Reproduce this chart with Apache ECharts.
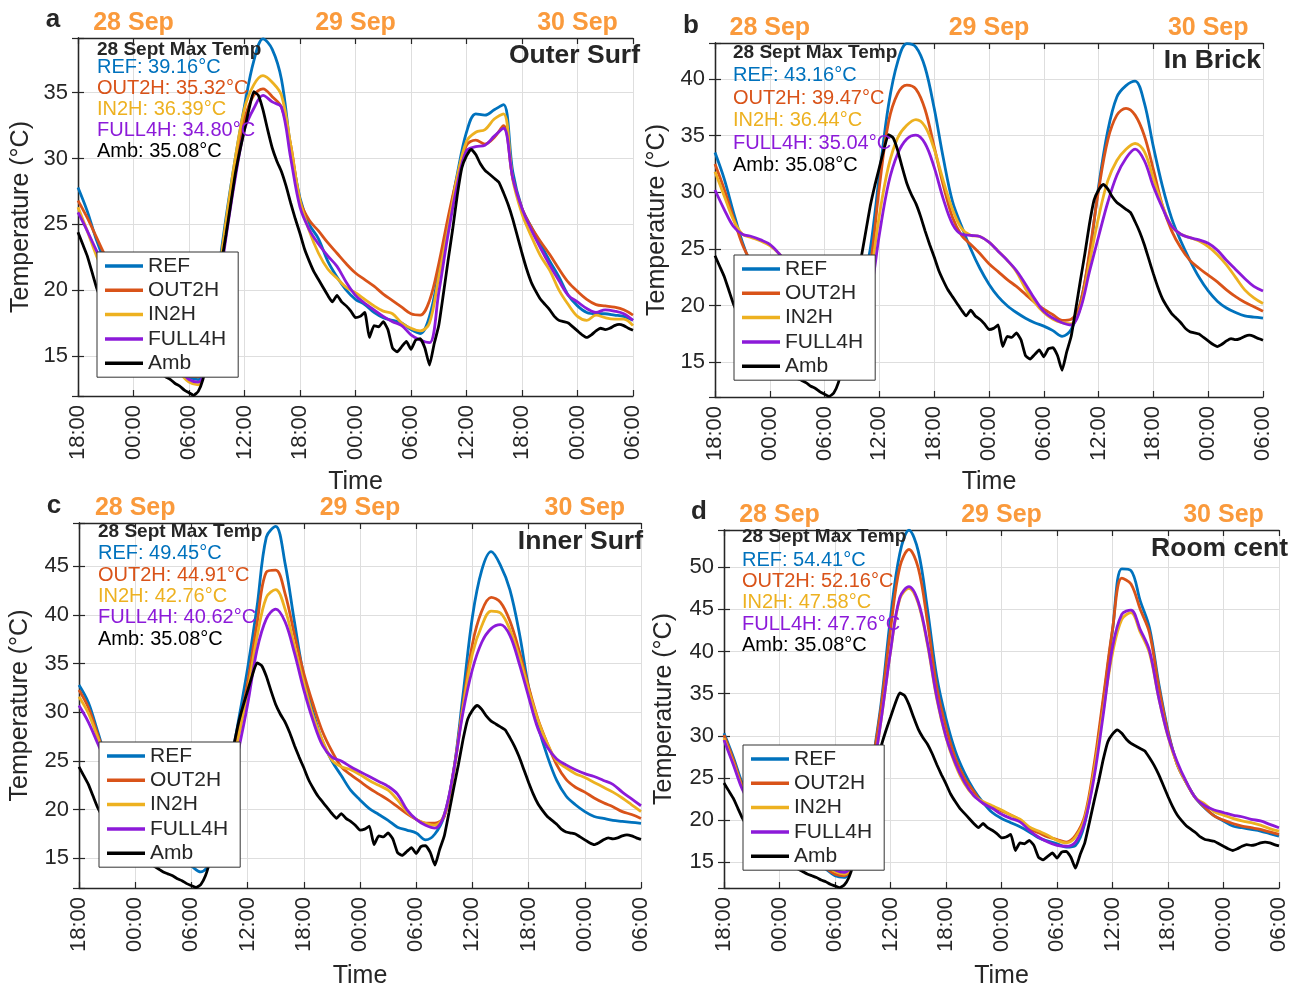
<!DOCTYPE html>
<html><head><meta charset="utf-8">
<script src="https://cdn.jsdelivr.net/npm/echarts@6/dist/echarts.min.js"></script>
<style>html,body{margin:0;padding:0;background:#fff}#chart{width:1298px;height:988px}</style>
</head><body><div id="chart"></div>
<script>
// ---------- DATA ----------
const seriesNames = ['REF', 'OUT2H', 'IN2H', 'FULL4H', 'Amb'];
const xTickLabels = ['18:00','00:00','06:00','12:00','18:00','00:00','06:00','12:00','18:00','00:00','06:00']; // every 6 h from 18:00 27 Sep
const dateTickHours = [6, 30, 54];
const dateNames = ['28 Sep', '29 Sep', '30 Sep'];
const panelLetters = ['a', 'b', 'c', 'd'];
const panelTitles = ['Outer Surf', 'In Brick', 'Inner Surf', 'Room cent'];
const maxTempTitle = '28 Sept Max Temp';
const maxTempLabels = [
  ['REF: 39.16°C', 'OUT2H: 35.32°C', 'IN2H: 36.39°C', 'FULL4H: 34.80°C', 'Amb: 35.08°C'],
  ['REF: 43.16°C', 'OUT2H: 39.47°C', 'IN2H: 36.44°C', 'FULL4H: 35.04°C', 'Amb: 35.08°C'],
  ['REF: 49.45°C', 'OUT2H: 44.91°C', 'IN2H: 42.76°C', 'FULL4H: 40.62°C', 'Amb: 35.08°C'],
  ['REF: 54.41°C', 'OUT2H: 52.16°C', 'IN2H: 47.58°C', 'FULL4H: 47.76°C', 'Amb: 35.08°C']
];
const yMinValue = 11.95;
const yMaxValues = [39.16, 43.16, 49.45, 54.41];

// Ambient temperature, half-hourly from 18:00 27 Sep
const amb = [24.4,23.5,22.6,21.4,20.2,19.3,18.5,17.8,17.2,16.7,16.2,15.8,15.4,15.1,14.8,14.5,14.2,13.9,13.6,13.4,
  13.2,12.9,12.7,12.4,12.2,12.0,12.3,13.2,14.8,17.0,19.5,22.0,24.2,26.5,28.8,30.6,32.2,33.8,35.08,34.8,
  33.7,32.2,30.8,29.8,29.0,27.9,26.6,25.4,24.3,23.1,22.2,21.4,20.8,20.2,19.6,19.1,19.6,19.1,18.8,18.4,
  17.9,18.0,18.3,16.4,17.3,17.2,17.6,17.0,15.6,15.3,15.7,16.1,15.5,16.2,16.3,15.6,14.3,15.9,17.3,19.7,
  22.2,24.6,27.2,29.3,30.2,30.7,30.3,29.6,29.1,28.8,28.5,28.2,27.4,26.5,25.4,24.1,22.8,21.6,20.6,19.9,
  19.3,18.9,18.5,18.0,17.7,17.6,17.5,17.2,16.9,16.6,16.4,16.6,16.9,17.1,17.0,17.1,17.3,17.4,17.3,17.1,16.95];

// (a) Outer surface, hourly
const refA = [27.8,26.0,23.8,22.0,20.6,19.4,18.3,17.3,16.4,15.6,14.8,14.1,13.4,13.2,15.8,20.5,25.5,30.0,34.0,37.4,
  39.1,38.3,36.0,30.8,27.0,25.0,23.9,22.2,21.0,20.0,19.3,18.9,18.3,17.9,17.7,17.5,17.0,16.7,18.0,21.3,
  25.0,28.8,32.0,33.4,33.3,33.7,34.1,29.0,26.2,24.8,23.5,22.2,21.0,19.6,18.8,18.3,18.2,18.2,18.1,18.0,17.7];
const out2hA = [26.8,25.5,24.0,22.5,21.0,19.8,18.7,17.6,16.7,15.8,15.0,14.2,13.5,13.4,15.5,20.0,25.0,29.5,33.0,34.8,
  35.3,34.7,33.9,31.0,26.8,25.3,24.5,23.6,22.8,22.0,21.3,20.8,20.3,19.7,19.2,18.7,18.2,18.1,19.2,22.0,
  25.5,28.6,31.0,31.4,31.1,31.6,32.5,28.5,26.2,24.8,23.7,22.7,21.6,20.6,19.9,19.3,18.9,18.8,18.7,18.5,18.1];
const in2hA = [26.3,24.5,22.6,21.0,19.7,18.6,17.6,16.7,15.9,15.1,14.4,13.7,13.0,12.8,15.3,20.0,25.2,30.0,33.8,35.6,
  36.3,35.8,34.8,31.0,26.8,24.5,22.8,21.6,20.9,20.2,19.8,19.3,18.8,18.4,18.2,17.5,17.1,16.9,17.5,21.0,
  24.6,28.6,31.3,32.0,32.2,33.0,33.4,28.4,25.8,24.1,22.6,21.5,20.0,18.9,18.0,17.7,18.1,17.9,17.8,17.8,17.3];
const full4hA = [25.9,24.5,23.0,21.6,20.3,19.2,18.1,17.1,16.2,15.4,14.6,13.9,13.2,13.0,14.8,19.0,24.0,28.5,32.2,33.8,
  34.8,34.3,33.9,30.0,26.3,24.6,23.5,22.6,21.8,20.6,19.6,19.0,18.5,18.0,17.6,17.3,16.6,16.2,16.0,19.8,
  24.2,28.0,30.6,30.9,31.0,31.7,32.3,28.5,26.2,24.6,23.2,21.9,20.7,19.6,19.1,18.6,18.3,18.5,18.4,18.2,17.7];

// (b) In brick, hourly
const refB = [33.5,31.2,28.3,25.6,23.5,22.0,20.8,19.8,18.9,18.1,17.4,16.8,16.3,16.0,16.5,18.5,21.0,25.0,31.5,37.7,
  41.5,43.1,42.8,41.0,37.4,33.0,29.2,27.0,25.0,23.3,21.9,20.8,20.0,19.4,18.9,18.5,18.2,17.8,17.3,17.9,
  20.2,24.4,30.5,35.4,38.4,39.4,39.8,37.9,34.0,30.5,27.7,25.7,24.0,22.5,21.3,20.4,19.8,19.4,19.1,19.0,18.9];
const out2hB = [32.5,30.3,27.8,25.4,23.8,22.6,21.6,20.7,19.9,19.2,18.6,18.0,17.5,17.1,17.0,18.0,20.0,23.5,30.5,36.2,
  38.7,39.45,39.1,37.3,34.0,30.6,27.8,26.2,25.4,24.6,23.7,23.0,22.3,21.7,21.0,20.3,19.7,19.2,18.7,18.8,
  20.2,24.7,30.2,34.6,36.8,37.4,36.8,35.0,32.0,28.8,26.6,25.1,24.0,23.3,22.7,22.1,21.4,20.8,20.3,19.9,19.5];
const in2hB = [31.8,29.7,27.6,26.3,26.0,25.7,25.3,24.6,23.5,22.3,21.0,19.8,18.8,18.0,17.6,17.8,19.0,22.5,28.0,32.3,
  34.8,35.9,36.4,35.8,33.8,31.0,28.5,26.8,26.2,26.1,25.6,24.8,24.0,23.0,21.5,20.3,19.4,18.8,18.5,18.4,
  19.8,23.8,27.8,31.0,32.8,33.8,34.3,33.6,31.2,28.8,27.0,26.3,26.0,25.7,25.2,24.5,23.6,22.5,21.4,20.7,20.2];
const full4hB = [30.2,28.5,27.0,26.3,26.1,25.8,25.4,24.6,23.6,22.5,21.3,20.2,19.2,18.4,18.0,18.2,18.6,21.0,26.3,30.8,
  33.4,34.7,35.04,34.3,32.2,29.4,27.2,26.3,26.2,26.1,25.6,24.8,24.0,23.1,21.9,20.6,19.5,18.9,18.5,18.3,
  19.7,23.0,26.1,29.1,31.5,33.0,33.8,32.8,30.5,28.6,27.0,26.3,26.0,25.8,25.5,24.9,24.0,23.2,22.4,21.7,21.3];

// (c) Inner surface, hourly
const refC = [32.8,31.0,28.0,25.0,22.8,21.0,19.6,18.4,17.3,16.4,15.6,14.9,14.2,13.6,14.6,18.0,23.5,29.0,34.5,40.8,
  48.0,49.1,45.3,39.3,33.7,30.0,27.0,25.0,23.5,22.0,21.0,20.1,19.5,18.9,18.2,17.9,17.6,16.9,17.5,19.4,
  24.0,31.8,39.8,44.6,46.5,45.1,42.6,38.2,32.6,28.6,25.5,23.0,21.4,20.5,19.8,19.3,19.1,18.9,18.8,18.7,18.6];
const out2hC = [32.3,30.5,27.7,25.0,23.0,21.3,20.0,18.9,17.9,17.1,16.3,15.6,15.0,14.6,15.2,18.5,23.0,28.0,33.0,39.1,
  44.4,44.6,42.2,38.0,34.0,30.8,28.0,26.0,24.4,23.6,22.9,22.2,21.6,21.0,20.3,19.6,19.0,18.6,18.6,19.3,
  24.0,30.8,37.0,40.4,41.8,41.3,39.4,36.3,32.6,29.3,26.8,24.6,23.1,22.3,21.8,21.2,20.7,20.3,19.8,19.5,19.1];
const in2hC = [31.6,29.9,27.4,24.9,23.0,21.5,20.3,19.2,18.3,17.5,16.7,16.0,15.4,15.0,15.5,18.5,22.5,27.3,32.1,37.7,
  41.8,42.6,40.6,36.8,33.0,29.6,27.1,25.1,24.4,24.1,23.6,23.0,22.5,22.0,21.0,19.8,19.0,18.6,18.4,19.5,
  23.8,30.5,36.0,38.9,40.4,40.2,38.5,35.7,32.3,29.2,26.8,25.0,24.3,23.7,23.3,22.8,22.3,21.8,21.2,20.5,19.8];
const full4hC = [30.7,29.0,26.8,24.6,22.9,21.5,20.4,19.4,18.5,17.7,17.0,16.3,15.7,15.3,15.6,18.0,21.8,26.0,30.8,36.4,
  39.6,40.6,39.3,36.1,32.3,29.1,26.6,25.4,25.0,24.4,23.9,23.4,22.9,22.4,21.6,20.0,19.0,18.4,18.1,19.5,
  24.0,30.0,34.4,37.2,38.6,39.0,37.9,35.0,31.6,28.3,26.4,25.2,24.6,24.1,23.7,23.4,23.0,22.6,21.8,21.1,20.4];

// (d) Room centre, hourly
const refD = [30.3,27.5,24.3,22.0,20.3,19.0,18.0,17.1,16.3,15.6,14.9,14.2,13.4,13.2,15.0,20.0,26.5,34.0,44.0,51.6,
  54.4,51.9,45.0,37.0,32.0,28.2,25.6,23.6,22.1,20.9,20.2,19.7,19.2,18.6,17.9,17.5,17.2,16.8,17.0,19.6,
  25.8,34.0,42.5,49.8,49.6,46.0,42.8,36.2,30.6,26.6,24.4,22.6,21.4,20.5,19.9,19.3,19.1,18.9,18.7,18.4,18.1];
const out2hD = [30.1,27.2,24.0,21.9,20.3,19.1,18.1,17.2,16.4,15.7,15.0,14.3,13.6,13.4,15.0,20.0,26.3,33.5,42.6,50.0,
  52.1,49.9,43.5,35.8,31.0,27.4,25.0,23.4,22.0,21.6,21.1,20.6,20.0,19.0,18.5,18.0,17.7,17.4,18.2,20.5,
  26.5,34.5,42.6,48.7,48.0,45.0,42.2,35.8,30.4,26.6,24.4,22.6,21.5,20.5,20.0,19.6,19.3,19.1,18.9,18.6,18.3];
const in2hD = [29.7,26.8,23.8,21.8,20.3,19.2,18.2,17.4,16.6,15.9,15.2,14.6,13.9,13.6,15.0,19.5,25.0,32.0,40.0,46.2,
  47.5,45.7,40.8,34.4,29.8,26.6,24.3,22.9,22.2,21.7,21.2,20.6,20.1,19.2,18.7,18.2,17.6,17.3,18.0,20.2,
  25.8,33.0,39.8,43.8,44.6,42.3,39.8,34.5,29.9,26.6,24.4,22.6,21.9,21.0,20.6,20.2,19.9,19.7,19.4,19.0,18.7];
const full4hD = [29.5,26.6,23.6,21.7,20.3,19.3,18.4,17.6,16.8,16.1,15.4,14.8,14.1,13.8,15.0,19.5,25.0,32.0,40.0,46.4,
  47.7,45.9,41.0,34.6,29.9,26.8,24.5,22.9,22.0,21.4,20.7,20.2,19.8,18.8,18.0,17.4,17.0,16.9,17.4,19.8,
  25.0,32.5,40.5,44.4,44.9,42.6,40.1,34.5,30.0,26.9,24.5,22.6,21.7,21.2,20.9,20.6,20.4,20.1,19.9,19.5,19.1];

const panelData = [
  [refA, out2hA, in2hA, full4hA],
  [refB, out2hB, in2hB, full4hB],
  [refC, out2hC, in2hC, full4hC],
  [refD, out2hD, in2hD, full4hD]
];

// ---------- STYLE / LAYOUT ----------
const colors = ['#0072BD', '#D95319', '#EDB120', '#8C1AD9', '#000000'];
const FONT = '"Liberation Sans", Arial, Helvetica, sans-serif';
const TXT = '#262626';
const ORANGE = '#FA9A3C';
const grids = [
  {left: 78,  top: 38,  width: 555, height: 358},
  {left: 715, top: 43,  width: 548, height: 354},
  {left: 79,  top: 523, width: 562, height: 365},
  {left: 724, top: 530, width: 555, height: 358}
];
const legendPos = [[97, 252], [734, 255], [99, 742], [743, 745]];
const yNameGap = [44, 45, 46, 47];
const xNameGap = [74, 73, 76, 76];
const annot = [
  {x: 97,  ys: [50, 68.5, 89.5, 110.3, 131.3, 152.7]},
  {x: 733, ys: [53.3, 76, 99, 121.3, 144.3, 166.7]},
  {x: 98,  ys: [532.7, 554.3, 576, 597.3, 618.3, 640]},
  {x: 742, ys: [537.7, 561, 582.3, 603.3, 625, 646]}
];
const titlePos = [[640, 56], [1261, 61], [643, 542], [1288, 549]];
const letterPos = [[53, 20], [691, 26], [54, 506], [699, 512]];

const option = {
  animation: false,
  backgroundColor: '#fff',
  textStyle: {fontFamily: FONT},
  grid: [], xAxis: [], yAxis: [], series: [], legend: [], graphic: []
};

const axisLineStyle = {show: true, lineStyle: {color: TXT, width: 1.3}};

grids.forEach((g, p) => {
  option.grid.push(Object.assign({containLabel: false, outerBoundsMode: 'none'}, g));
  const yMax = yMaxValues[p];
  option.xAxis.push({
    type: 'value', gridIndex: p, position: 'bottom', min: 0, max: 60, interval: 6,
    axisLine: axisLineStyle,
    axisTick: {show: true, inside: true, length: 6, lineStyle: {color: TXT, width: 1.2}},
    axisLabel: {rotate: 90, fontSize: 22, color: TXT, margin: 9, fontFamily: FONT,
      formatter: v => xTickLabels[Math.round(v / 6)] || ''},
    splitLine: {show: true, lineStyle: {color: '#dedede', width: 1}},
    name: 'Time', nameLocation: 'middle', nameGap: xNameGap[p],
    nameTextStyle: {fontSize: 25, color: TXT, fontFamily: FONT}
  });
  option.xAxis.push({
    type: 'value', gridIndex: p, position: 'top', min: 0, max: 60, interval: 6,
    axisLine: axisLineStyle,
    axisTick: {show: true, inside: true, length: 6, lineStyle: {color: TXT, width: 1.2}},
    axisLabel: {fontSize: 25, fontWeight: 'bold', color: ORANGE, margin: 2, fontFamily: FONT,
      formatter: v => { const k = dateTickHours.indexOf(Math.round(v)); return k >= 0 ? dateNames[k] : ''; }},
    splitLine: {show: false}
  });
  option.yAxis.push({
    type: 'value', gridIndex: p, position: 'left', min: yMinValue, max: yMax,
    minInterval: 5, maxInterval: 5, splitNumber: 6,
    axisLine: axisLineStyle,
    axisTick: {show: true, inside: true, length: 6, lineStyle: {color: TXT, width: 1.2}},
    axisLabel: {fontSize: 22, color: TXT, margin: 10, fontFamily: FONT,
      formatter: v => (Math.abs(v / 5 - Math.round(v / 5)) < 1e-6 ? String(Math.round(v)) : '')},
    splitLine: {show: true, lineStyle: {color: '#dedede', width: 1}},
    name: 'Temperature (°C)', nameLocation: 'middle', nameGap: yNameGap[p], nameRotate: 90,
    nameTextStyle: {fontSize: 25, color: TXT, fontFamily: FONT}
  });
  option.yAxis.push({
    type: 'value', gridIndex: p, position: 'right', min: yMinValue, max: yMax,
    minInterval: 5, maxInterval: 5, splitNumber: 6,
    axisLine: axisLineStyle,
    axisTick: {show: true, inside: true, length: 6, lineStyle: {color: TXT, width: 1.2}},
    axisLabel: {show: false}, splitLine: {show: false}
  });

  panelData[p].forEach((arr, k) => {
    option.series.push({
      name: seriesNames[k], type: 'line', xAxisIndex: 2 * p, yAxisIndex: 2 * p,
      data: arr.map((v, i) => [i, v]),
      smooth: 0.35, showSymbol: false, symbol: 'none', clip: true,
      lineStyle: {color: colors[k], width: 2.8}, itemStyle: {color: colors[k]},
      z: 2 + k
    });
  });
  option.series.push({
    name: 'Amb', type: 'line', xAxisIndex: 2 * p, yAxisIndex: 2 * p,
    data: amb.map((v, i) => [i / 2, v]),
    smooth: 0.15, showSymbol: false, symbol: 'none', clip: true,
    lineStyle: {color: colors[4], width: 2.8}, itemStyle: {color: colors[4]},
    z: 7
  });

  option.legend.push({
    show: true, orient: 'vertical', left: legendPos[p][0], top: legendPos[p][1],
    data: seriesNames, icon: 'rect', itemWidth: 38, itemHeight: 3.5, itemGap: 0.3,
    padding: [2, 12, 2, 8], backgroundColor: '#fff', borderColor: '#333', borderWidth: 1, borderRadius: 0,
    textStyle: {fontSize: 21, color: TXT, lineHeight: 24, fontFamily: FONT},
    selectedMode: false, z: 20
  });

  const a = annot[p];
  option.graphic.push({type: 'text', left: a.x, top: a.ys[0] - 10, z: 30,
    style: {text: maxTempTitle, fill: TXT, font: 'bold 19px ' + FONT}});
  maxTempLabels[p].forEach((t, k) => {
    option.graphic.push({type: 'text', left: a.x, top: a.ys[k + 1] - 11, z: 30,
      style: {text: t, fill: colors[k], font: '20px ' + FONT}});
  });
  option.graphic.push({type: 'text', x: titlePos[p][0], y: titlePos[p][1], z: 30,
    style: {text: panelTitles[p], fill: TXT, font: 'bold 26.5px ' + FONT, textAlign: 'right', textVerticalAlign: 'middle'}});
  option.graphic.push({type: 'text', x: letterPos[p][0], y: letterPos[p][1], z: 30,
    style: {text: panelLetters[p], fill: TXT, font: 'bold 26px ' + FONT, textAlign: 'center', textVerticalAlign: 'middle'}});
});

const chart = echarts.init(document.getElementById('chart'), null, {renderer: 'canvas'});
chart.setOption(option);
</script>
</body></html>
